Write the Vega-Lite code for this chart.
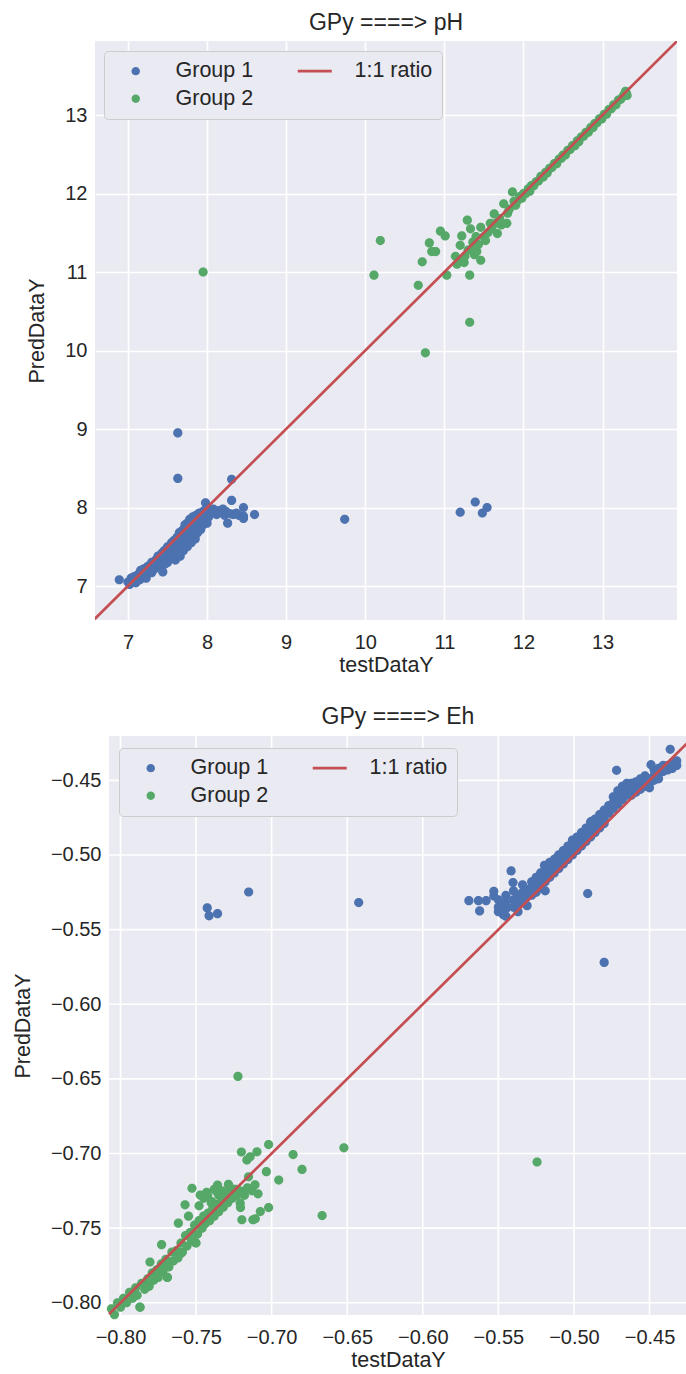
{
  "$schema": "https://vega.github.io/schema/vega-lite/v6.json",
  "padding": {"left": 12, "top": 12, "right": 0, "bottom": 0},
  "background": "white",
  "datasets": {
    "ph": [
      {"g":"Group 1","x":6.89,"y":7.08},{"g":"Group 1","x":7.0,"y":7.05},{"g":"Group 1","x":7.02,"y":7.02},{"g":"Group 1","x":7.04,"y":7.1},{"g":"Group 1","x":7.06,"y":7.06},{"g":"Group 1","x":7.08,"y":7.12},{"g":"Group 1","x":7.1,"y":7.04},{"g":"Group 1","x":7.12,"y":7.1},{"g":"Group 1","x":7.13,"y":7.15},{"g":"Group 1","x":7.15,"y":7.08},{"g":"Group 1","x":7.16,"y":7.2},{"g":"Group 1","x":7.18,"y":7.13},{"g":"Group 1","x":7.2,"y":7.22},{"g":"Group 1","x":7.21,"y":7.16},{"g":"Group 1","x":7.23,"y":7.1},{"g":"Group 1","x":7.25,"y":7.25},{"g":"Group 1","x":7.26,"y":7.19},{"g":"Group 1","x":7.28,"y":7.24},{"g":"Group 1","x":7.3,"y":7.3},{"g":"Group 1","x":7.3,"y":7.17},{"g":"Group 1","x":7.32,"y":7.27},{"g":"Group 1","x":7.34,"y":7.22},{"g":"Group 1","x":7.35,"y":7.33},{"g":"Group 1","x":7.36,"y":7.28},{"g":"Group 1","x":7.38,"y":7.38},{"g":"Group 1","x":7.4,"y":7.3},{"g":"Group 1","x":7.41,"y":7.36},{"g":"Group 1","x":7.43,"y":7.42},{"g":"Group 1","x":7.44,"y":7.18},{"g":"Group 1","x":7.45,"y":7.33},{"g":"Group 1","x":7.46,"y":7.45},{"g":"Group 1","x":7.48,"y":7.38},{"g":"Group 1","x":7.5,"y":7.5},{"g":"Group 1","x":7.5,"y":7.3},{"g":"Group 1","x":7.52,"y":7.42},{"g":"Group 1","x":7.53,"y":7.35},{"g":"Group 1","x":7.55,"y":7.55},{"g":"Group 1","x":7.55,"y":7.47},{"g":"Group 1","x":7.57,"y":7.4},{"g":"Group 1","x":7.58,"y":7.58},{"g":"Group 1","x":7.6,"y":7.5},{"g":"Group 1","x":7.6,"y":7.33},{"g":"Group 1","x":7.62,"y":7.62},{"g":"Group 1","x":7.62,"y":7.44},{"g":"Group 1","x":7.64,"y":7.55},{"g":"Group 1","x":7.65,"y":7.68},{"g":"Group 1","x":7.66,"y":7.38},{"g":"Group 1","x":7.67,"y":7.5},{"g":"Group 1","x":7.68,"y":7.6},{"g":"Group 1","x":7.7,"y":7.72},{"g":"Group 1","x":7.7,"y":7.45},{"g":"Group 1","x":7.72,"y":7.78},{"g":"Group 1","x":7.72,"y":7.55},{"g":"Group 1","x":7.73,"y":7.65},{"g":"Group 1","x":7.75,"y":7.8},{"g":"Group 1","x":7.75,"y":7.5},{"g":"Group 1","x":7.76,"y":7.7},{"g":"Group 1","x":7.77,"y":7.6},{"g":"Group 1","x":7.78,"y":7.85},{"g":"Group 1","x":7.8,"y":7.75},{"g":"Group 1","x":7.8,"y":7.55},{"g":"Group 1","x":7.81,"y":7.65},{"g":"Group 1","x":7.82,"y":7.88},{"g":"Group 1","x":7.83,"y":7.7},{"g":"Group 1","x":7.85,"y":7.82},{"g":"Group 1","x":7.85,"y":7.6},{"g":"Group 1","x":7.86,"y":7.9},{"g":"Group 1","x":7.87,"y":7.75},{"g":"Group 1","x":7.88,"y":7.68},{"g":"Group 1","x":7.9,"y":7.93},{"g":"Group 1","x":7.9,"y":7.82},{"g":"Group 1","x":7.92,"y":7.72},{"g":"Group 1","x":7.93,"y":7.88},{"g":"Group 1","x":7.95,"y":7.95},{"g":"Group 1","x":7.95,"y":7.78},{"g":"Group 1","x":7.97,"y":7.85},{"g":"Group 1","x":7.98,"y":8.06},{"g":"Group 1","x":8.0,"y":7.92},{"g":"Group 1","x":8.0,"y":7.8},{"g":"Group 1","x":8.02,"y":7.88},{"g":"Group 1","x":8.03,"y":7.97},{"g":"Group 1","x":8.05,"y":7.93},{"g":"Group 1","x":8.08,"y":7.98},{"g":"Group 1","x":8.12,"y":7.91},{"g":"Group 1","x":8.15,"y":7.96},{"g":"Group 1","x":8.2,"y":7.98},{"g":"Group 1","x":8.22,"y":7.9},{"g":"Group 1","x":8.24,"y":7.95},{"g":"Group 1","x":8.26,"y":7.8},{"g":"Group 1","x":8.3,"y":7.92},{"g":"Group 1","x":8.33,"y":7.91},{"g":"Group 1","x":8.37,"y":7.93},{"g":"Group 1","x":8.4,"y":7.9},{"g":"Group 1","x":8.46,"y":7.89},{"g":"Group 1","x":8.46,"y":7.86},{"g":"Group 1","x":8.46,"y":8.0},{"g":"Group 1","x":8.6,"y":7.91},{"g":"Group 1","x":8.31,"y":8.09},{"g":"Group 1","x":8.31,"y":8.36},{"g":"Group 1","x":7.63,"y":8.95},{"g":"Group 1","x":7.63,"y":8.37},{"g":"Group 1","x":9.74,"y":7.85},{"g":"Group 1","x":11.2,"y":7.94},{"g":"Group 1","x":11.39,"y":8.07},{"g":"Group 1","x":11.48,"y":7.93},{"g":"Group 1","x":11.54,"y":8.0},
      {"g":"Group 1","x":7.42,"y":7.25},{"g":"Group 1","x":7.47,"y":7.28},{"g":"Group 1","x":7.56,"y":7.36},{"g":"Group 1","x":7.63,"y":7.42},{"g":"Group 1","x":7.69,"y":7.52},{"g":"Group 1","x":7.74,"y":7.58},{"g":"Group 1","x":7.79,"y":7.63},{"g":"Group 1","x":7.84,"y":7.67},{"g":"Group 1","x":7.89,"y":7.73},{"g":"Group 1","x":7.58,"y":7.48},{"g":"Group 1","x":7.64,"y":7.6},{"g":"Group 1","x":7.52,"y":7.5},{"g":"Group 1","x":7.68,"y":7.7},{"g":"Group 1","x":7.74,"y":7.72},{"g":"Group 1","x":7.79,"y":7.82},{"g":"Group 1","x":7.84,"y":7.86},{"g":"Group 1","x":7.89,"y":7.88},{"g":"Group 1","x":7.94,"y":7.9},{"g":"Group 1","x":7.97,"y":7.96},{"g":"Group 1","x":7.99,"y":7.99},
      {"g":"Group 2","x":7.95,"y":11.0},{"g":"Group 2","x":10.11,"y":10.96},{"g":"Group 2","x":10.19,"y":11.4},{"g":"Group 2","x":10.76,"y":9.97},{"g":"Group 2","x":11.32,"y":10.36},{"g":"Group 2","x":10.67,"y":10.83},{"g":"Group 2","x":10.72,"y":11.13},{"g":"Group 2","x":10.81,"y":11.37},{"g":"Group 2","x":10.84,"y":11.26},{"g":"Group 2","x":10.89,"y":11.26},{"g":"Group 2","x":10.95,"y":11.52},{"g":"Group 2","x":11.01,"y":11.46},{"g":"Group 2","x":11.03,"y":10.96},{"g":"Group 2","x":11.22,"y":11.46},{"g":"Group 2","x":11.2,"y":11.34},{"g":"Group 2","x":11.29,"y":11.66},{"g":"Group 2","x":11.32,"y":10.96},{"g":"Group 2","x":11.33,"y":11.55},{"g":"Group 2","x":11.46,"y":11.15},{"g":"Group 2","x":11.41,"y":11.26},{"g":"Group 2","x":11.2,"y":11.15},{"g":"Group 2","x":11.16,"y":11.1},{"g":"Group 2","x":11.14,"y":11.2},{"g":"Group 2","x":11.26,"y":11.2},{"g":"Group 2","x":11.3,"y":11.28},{"g":"Group 2","x":11.35,"y":11.3},{"g":"Group 2","x":11.25,"y":11.12},{"g":"Group 2","x":11.38,"y":11.22},{"g":"Group 2","x":11.43,"y":11.35},{"g":"Group 2","x":11.46,"y":11.57},{"g":"Group 2","x":11.58,"y":11.62},{"g":"Group 2","x":11.63,"y":11.74},{"g":"Group 2","x":11.75,"y":11.87},{"g":"Group 2","x":11.86,"y":12.02},{"g":"Group 2","x":11.67,"y":11.49},{"g":"Group 2","x":11.79,"y":11.62},{"g":"Group 2","x":11.8,"y":11.75},{"g":"Group 2","x":11.7,"y":11.68},{"g":"Group 2","x":11.55,"y":11.5},{"g":"Group 2","x":11.5,"y":11.45},{"g":"Group 2","x":11.6,"y":11.55},{"g":"Group 2","x":11.72,"y":11.6},{"g":"Group 2","x":11.65,"y":11.62},{"g":"Group 2","x":11.82,"y":11.8},{"g":"Group 2","x":11.9,"y":11.85},{"g":"Group 2","x":11.52,"y":11.4},{"g":"Group 2","x":11.4,"y":11.45},{"g":"Group 2","x":11.36,"y":11.38},
      {"g":"Group 2","x":11.88,"y":11.9},{"g":"Group 2","x":11.92,"y":11.9},{"g":"Group 2","x":11.95,"y":11.96},{"g":"Group 2","x":11.98,"y":11.94},{"g":"Group 2","x":12.0,"y":12.0},{"g":"Group 2","x":12.03,"y":12.0},{"g":"Group 2","x":12.06,"y":12.06},{"g":"Group 2","x":12.08,"y":12.03},{"g":"Group 2","x":12.1,"y":12.1},{"g":"Group 2","x":12.13,"y":12.1},{"g":"Group 2","x":12.16,"y":12.15},{"g":"Group 2","x":12.19,"y":12.16},{"g":"Group 2","x":12.22,"y":12.22},{"g":"Group 2","x":12.25,"y":12.21},{"g":"Group 2","x":12.28,"y":12.27},{"g":"Group 2","x":12.3,"y":12.26},{"g":"Group 2","x":12.33,"y":12.32},{"g":"Group 2","x":12.36,"y":12.33},{"g":"Group 2","x":12.39,"y":12.38},{"g":"Group 2","x":12.42,"y":12.38},{"g":"Group 2","x":12.45,"y":12.44},{"g":"Group 2","x":12.48,"y":12.45},{"g":"Group 2","x":12.5,"y":12.49},{"g":"Group 2","x":12.53,"y":12.49},{"g":"Group 2","x":12.56,"y":12.55},{"g":"Group 2","x":12.59,"y":12.56},{"g":"Group 2","x":12.62,"y":12.61},{"g":"Group 2","x":12.65,"y":12.61},{"g":"Group 2","x":12.68,"y":12.67},{"g":"Group 2","x":12.7,"y":12.66},{"g":"Group 2","x":12.73,"y":12.72},{"g":"Group 2","x":12.76,"y":12.73},{"g":"Group 2","x":12.79,"y":12.78},{"g":"Group 2","x":12.82,"y":12.78},{"g":"Group 2","x":12.85,"y":12.84},{"g":"Group 2","x":12.88,"y":12.84},{"g":"Group 2","x":12.9,"y":12.89},{"g":"Group 2","x":12.93,"y":12.9},{"g":"Group 2","x":12.96,"y":12.95},{"g":"Group 2","x":12.99,"y":12.95},{"g":"Group 2","x":13.02,"y":13.01},{"g":"Group 2","x":13.05,"y":13.01},{"g":"Group 2","x":13.08,"y":13.07},{"g":"Group 2","x":13.11,"y":13.08},{"g":"Group 2","x":13.14,"y":13.13},{"g":"Group 2","x":13.17,"y":13.13},{"g":"Group 2","x":13.2,"y":13.19},{"g":"Group 2","x":13.23,"y":13.2},{"g":"Group 2","x":13.26,"y":13.24},{"g":"Group 2","x":13.28,"y":13.27},{"g":"Group 2","x":13.3,"y":13.28},{"g":"Group 2","x":13.31,"y":13.25},{"g":"Group 2","x":13.29,"y":13.3}
    ],
    "eh": [
      {"g":"Group 1","x":-0.7426,"y":-0.5355},{"g":"Group 1","x":-0.7414,"y":-0.5408},{"g":"Group 1","x":-0.7358,"y":-0.5393},{"g":"Group 1","x":-0.7152,"y":-0.5248},{"g":"Group 1","x":-0.6424,"y":-0.5319},{"g":"Group 1","x":-0.48,"y":-0.572},{"g":"Group 1","x":-0.4909,"y":-0.5259},
      {"g":"Group 1","x":-0.5695,"y":-0.5306},{"g":"Group 1","x":-0.5632,"y":-0.5306},{"g":"Group 1","x":-0.5581,"y":-0.5306},{"g":"Group 1","x":-0.5624,"y":-0.5375},{"g":"Group 1","x":-0.553,"y":-0.5275},{"g":"Group 1","x":-0.553,"y":-0.5243},{"g":"Group 1","x":-0.5467,"y":-0.533},{"g":"Group 1","x":-0.5467,"y":-0.54},{"g":"Group 1","x":-0.5416,"y":-0.5107},{"g":"Group 1","x":-0.5403,"y":-0.5185},
      {"g":"Group 1","x":-0.55,"y":-0.535},{"g":"Group 1","x":-0.55,"y":-0.53},{"g":"Group 1","x":-0.55,"y":-0.538},
      {"g":"Group 1","x":-0.545,"y":-0.532},{"g":"Group 1","x":-0.545,"y":-0.527},{"g":"Group 1","x":-0.545,"y":-0.536},{"g":"Group 1","x":-0.545,"y":-0.541},
      {"g":"Group 1","x":-0.54,"y":-0.53},{"g":"Group 1","x":-0.54,"y":-0.524},{"g":"Group 1","x":-0.54,"y":-0.535},
      {"g":"Group 1","x":-0.537,"y":-0.527},{"g":"Group 1","x":-0.537,"y":-0.533},{"g":"Group 1","x":-0.537,"y":-0.538},
      {"g":"Group 1","x":-0.534,"y":-0.525},{"g":"Group 1","x":-0.534,"y":-0.531},{"g":"Group 1","x":-0.534,"y":-0.52},
      {"g":"Group 1","x":-0.531,"y":-0.528},{"g":"Group 1","x":-0.531,"y":-0.523},{"g":"Group 1","x":-0.531,"y":-0.534},
      {"g":"Group 1","x":-0.528,"y":-0.522},{"g":"Group 1","x":-0.528,"y":-0.518},{"g":"Group 1","x":-0.528,"y":-0.527},
      {"g":"Group 1","x":-0.525,"y":-0.52},{"g":"Group 1","x":-0.525,"y":-0.515},{"g":"Group 1","x":-0.525,"y":-0.525},
      {"g":"Group 1","x":-0.522,"y":-0.517},{"g":"Group 1","x":-0.522,"y":-0.522},{"g":"Group 1","x":-0.522,"y":-0.512},
      {"g":"Group 1","x":-0.519,"y":-0.513},{"g":"Group 1","x":-0.519,"y":-0.518},{"g":"Group 1","x":-0.519,"y":-0.524},
      {"g":"Group 1","x":-0.516,"y":-0.51},{"g":"Group 1","x":-0.516,"y":-0.515},{"g":"Group 1","x":-0.516,"y":-0.505},
      {"g":"Group 1","x":-0.513,"y":-0.508},{"g":"Group 1","x":-0.513,"y":-0.512},{"g":"Group 1","x":-0.513,"y":-0.503},
      {"g":"Group 1","x":-0.51,"y":-0.505},{"g":"Group 1","x":-0.51,"y":-0.5},{"g":"Group 1","x":-0.51,"y":-0.509},
      {"g":"Group 1","x":-0.507,"y":-0.502},{"g":"Group 1","x":-0.507,"y":-0.497},{"g":"Group 1","x":-0.507,"y":-0.506},
      {"g":"Group 1","x":-0.504,"y":-0.499},{"g":"Group 1","x":-0.504,"y":-0.503},{"g":"Group 1","x":-0.504,"y":-0.494},
      {"g":"Group 1","x":-0.501,"y":-0.496},{"g":"Group 1","x":-0.501,"y":-0.5},{"g":"Group 1","x":-0.501,"y":-0.49},
      {"g":"Group 1","x":-0.498,"y":-0.493},{"g":"Group 1","x":-0.498,"y":-0.497},{"g":"Group 1","x":-0.498,"y":-0.488},
      {"g":"Group 1","x":-0.495,"y":-0.49},{"g":"Group 1","x":-0.495,"y":-0.485},{"g":"Group 1","x":-0.495,"y":-0.494},
      {"g":"Group 1","x":-0.492,"y":-0.487},{"g":"Group 1","x":-0.492,"y":-0.491},{"g":"Group 1","x":-0.492,"y":-0.482},
      {"g":"Group 1","x":-0.489,"y":-0.484},{"g":"Group 1","x":-0.489,"y":-0.478},{"g":"Group 1","x":-0.489,"y":-0.488},
      {"g":"Group 1","x":-0.486,"y":-0.481},{"g":"Group 1","x":-0.486,"y":-0.476},{"g":"Group 1","x":-0.486,"y":-0.485},
      {"g":"Group 1","x":-0.483,"y":-0.478},{"g":"Group 1","x":-0.483,"y":-0.473},{"g":"Group 1","x":-0.483,"y":-0.482},
      {"g":"Group 1","x":-0.48,"y":-0.475},{"g":"Group 1","x":-0.48,"y":-0.47},{"g":"Group 1","x":-0.48,"y":-0.479},
      {"g":"Group 1","x":-0.477,"y":-0.472},{"g":"Group 1","x":-0.477,"y":-0.467},{"g":"Group 1","x":-0.477,"y":-0.469},
      {"g":"Group 1","x":-0.474,"y":-0.469},{"g":"Group 1","x":-0.474,"y":-0.465},{"g":"Group 1","x":-0.474,"y":-0.461},
      {"g":"Group 1","x":-0.471,"y":-0.466},{"g":"Group 1","x":-0.471,"y":-0.461},{"g":"Group 1","x":-0.471,"y":-0.457},
      {"g":"Group 1","x":-0.468,"y":-0.463},{"g":"Group 1","x":-0.468,"y":-0.458},{"g":"Group 1","x":-0.468,"y":-0.454},
      {"g":"Group 1","x":-0.465,"y":-0.46},{"g":"Group 1","x":-0.465,"y":-0.455},{"g":"Group 1","x":-0.465,"y":-0.452},
      {"g":"Group 1","x":-0.462,"y":-0.457},{"g":"Group 1","x":-0.462,"y":-0.452},{"g":"Group 1","x":-0.462,"y":-0.46},
      {"g":"Group 1","x":-0.459,"y":-0.455},{"g":"Group 1","x":-0.459,"y":-0.451},{"g":"Group 1","x":-0.459,"y":-0.458},
      {"g":"Group 1","x":-0.456,"y":-0.453},{"g":"Group 1","x":-0.456,"y":-0.449},{"g":"Group 1","x":-0.456,"y":-0.456},
      {"g":"Group 1","x":-0.453,"y":-0.451},{"g":"Group 1","x":-0.453,"y":-0.447},{"g":"Group 1","x":-0.453,"y":-0.454},
      {"g":"Group 1","x":-0.45,"y":-0.449},{"g":"Group 1","x":-0.45,"y":-0.452},{"g":"Group 1","x":-0.45,"y":-0.455},
      {"g":"Group 1","x":-0.447,"y":-0.447},{"g":"Group 1","x":-0.447,"y":-0.443},{"g":"Group 1","x":-0.447,"y":-0.45},
      {"g":"Group 1","x":-0.444,"y":-0.446},{"g":"Group 1","x":-0.444,"y":-0.442},{"g":"Group 1","x":-0.444,"y":-0.449},
      {"g":"Group 1","x":-0.441,"y":-0.444},{"g":"Group 1","x":-0.441,"y":-0.44},{"g":"Group 1","x":-0.438,"y":-0.443},{"g":"Group 1","x":-0.438,"y":-0.44},{"g":"Group 1","x":-0.435,"y":-0.442},{"g":"Group 1","x":-0.435,"y":-0.439},{"g":"Group 1","x":-0.432,"y":-0.44},{"g":"Group 1","x":-0.432,"y":-0.437},
      {"g":"Group 1","x":-0.4718,"y":-0.4433},{"g":"Group 1","x":-0.449,"y":-0.4395},{"g":"Group 1","x":-0.4363,"y":-0.4292},{"g":"Group 1","x":-0.4883,"y":-0.4775},{"g":"Group 1","x":-0.5195,"y":-0.507},{"g":"Group 1","x":-0.5112,"y":-0.5018},
      {"g":"Group 2","x":-0.806,"y":-0.804},{"g":"Group 2","x":-0.804,"y":-0.808},{"g":"Group 2","x":-0.802,"y":-0.8},{"g":"Group 2","x":-0.8,"y":-0.803},{"g":"Group 2","x":-0.798,"y":-0.797},{"g":"Group 2","x":-0.796,"y":-0.8},{"g":"Group 2","x":-0.794,"y":-0.793},{"g":"Group 2","x":-0.792,"y":-0.797},{"g":"Group 2","x":-0.79,"y":-0.79},{"g":"Group 2","x":-0.789,"y":-0.795},{"g":"Group 2","x":-0.787,"y":-0.803},{"g":"Group 2","x":-0.786,"y":-0.787},{"g":"Group 2","x":-0.784,"y":-0.791},{"g":"Group 2","x":-0.782,"y":-0.784},{"g":"Group 2","x":-0.781,"y":-0.789},{"g":"Group 2","x":-0.779,"y":-0.78},{"g":"Group 2","x":-0.778,"y":-0.785},{"g":"Group 2","x":-0.776,"y":-0.778},{"g":"Group 2","x":-0.775,"y":-0.783},{"g":"Group 2","x":-0.773,"y":-0.774},{"g":"Group 2","x":-0.772,"y":-0.779},{"g":"Group 2","x":-0.77,"y":-0.771},{"g":"Group 2","x":-0.769,"y":-0.783},{"g":"Group 2","x":-0.768,"y":-0.776},{"g":"Group 2","x":-0.766,"y":-0.766},{"g":"Group 2","x":-0.765,"y":-0.772},{"g":"Group 2","x":-0.763,"y":-0.765},{"g":"Group 2","x":-0.762,"y":-0.77},{"g":"Group 2","x":-0.76,"y":-0.76},{"g":"Group 2","x":-0.759,"y":-0.766},{"g":"Group 2","x":-0.757,"y":-0.755},{"g":"Group 2","x":-0.756,"y":-0.762},{"g":"Group 2","x":-0.754,"y":-0.753},{"g":"Group 2","x":-0.753,"y":-0.758},{"g":"Group 2","x":-0.751,"y":-0.748},{"g":"Group 2","x":-0.75,"y":-0.76},{"g":"Group 2","x":-0.749,"y":-0.754},{"g":"Group 2","x":-0.748,"y":-0.745},{"g":"Group 2","x":-0.746,"y":-0.75},{"g":"Group 2","x":-0.745,"y":-0.742},{"g":"Group 2","x":-0.744,"y":-0.747},{"g":"Group 2","x":-0.742,"y":-0.74},{"g":"Group 2","x":-0.741,"y":-0.745},{"g":"Group 2","x":-0.739,"y":-0.737},{"g":"Group 2","x":-0.738,"y":-0.742},{"g":"Group 2","x":-0.736,"y":-0.734},{"g":"Group 2","x":-0.735,"y":-0.739},{"g":"Group 2","x":-0.733,"y":-0.731},{"g":"Group 2","x":-0.732,"y":-0.736},{"g":"Group 2","x":-0.73,"y":-0.728},{"g":"Group 2","x":-0.729,"y":-0.733},{"g":"Group 2","x":-0.727,"y":-0.726},{"g":"Group 2","x":-0.726,"y":-0.73},{"g":"Group 2","x":-0.724,"y":-0.724},{"g":"Group 2","x":-0.723,"y":-0.728},{"g":"Group 2","x":-0.721,"y":-0.725},
      {"g":"Group 2","x":-0.7527,"y":-0.7233},{"g":"Group 2","x":-0.7573,"y":-0.7344},{"g":"Group 2","x":-0.7617,"y":-0.7467},{"g":"Group 2","x":-0.7728,"y":-0.7611},{"g":"Group 2","x":-0.7805,"y":-0.7727},{"g":"Group 2","x":-0.755,"y":-0.742},{"g":"Group 2","x":-0.748,"y":-0.735},{"g":"Group 2","x":-0.743,"y":-0.726},{"g":"Group 2","x":-0.738,"y":-0.724},{"g":"Group 2","x":-0.733,"y":-0.725},{"g":"Group 2","x":-0.728,"y":-0.722},{"g":"Group 2","x":-0.745,"y":-0.73},{"g":"Group 2","x":-0.74,"y":-0.733},{"g":"Group 2","x":-0.735,"y":-0.728},
      {"g":"Group 2","x":-0.7286,"y":-0.7207},{"g":"Group 2","x":-0.7358,"y":-0.7211},{"g":"Group 2","x":-0.7423,"y":-0.7282},{"g":"Group 2","x":-0.7363,"y":-0.7256},{"g":"Group 2","x":-0.7319,"y":-0.7267},{"g":"Group 2","x":-0.7473,"y":-0.7278},{"g":"Group 2","x":-0.7396,"y":-0.7322},
      {"g":"Group 2","x":-0.769,"y":-0.7829},{"g":"Group 2","x":-0.7872,"y":-0.8029},{"g":"Group 2","x":-0.7507,"y":-0.7596},{"g":"Group 2","x":-0.76,"y":-0.767},
      {"g":"Group 2","x":-0.7223,"y":-0.6484},{"g":"Group 2","x":-0.6522,"y":-0.6962},{"g":"Group 2","x":-0.702,"y":-0.694},{"g":"Group 2","x":-0.72,"y":-0.699},{"g":"Group 2","x":-0.7164,"y":-0.7044},{"g":"Group 2","x":-0.7142,"y":-0.7022},{"g":"Group 2","x":-0.7097,"y":-0.6989},{"g":"Group 2","x":-0.6858,"y":-0.7007},{"g":"Group 2","x":-0.6799,"y":-0.7107},{"g":"Group 2","x":-0.7035,"y":-0.7122},{"g":"Group 2","x":-0.6953,"y":-0.7178},{"g":"Group 2","x":-0.6666,"y":-0.7416},{"g":"Group 2","x":-0.7153,"y":-0.7156},{"g":"Group 2","x":-0.702,"y":-0.7362},{"g":"Group 2","x":-0.7075,"y":-0.7389},{"g":"Group 2","x":-0.7197,"y":-0.7444},{"g":"Group 2","x":-0.7124,"y":-0.7444},{"g":"Group 2","x":-0.7108,"y":-0.7438},{"g":"Group 2","x":-0.7208,"y":-0.7333},{"g":"Group 2","x":-0.7206,"y":-0.7362},{"g":"Group 2","x":-0.7197,"y":-0.7256},{"g":"Group 2","x":-0.718,"y":-0.728},{"g":"Group 2","x":-0.716,"y":-0.723},{"g":"Group 2","x":-0.713,"y":-0.725},{"g":"Group 2","x":-0.711,"y":-0.721},{"g":"Group 2","x":-0.709,"y":-0.727},{"g":"Group 2","x":-0.5244,"y":-0.7057}
    ],
    "ehticks": [{"t": -0.8}, {"t": -0.75}, {"t": -0.7}, {"t": -0.65}, {"t": -0.6}, {"t": -0.55}, {"t": -0.5}, {"t": -0.45}]
  },
  "vconcat": [
    {
      "width": 582,
      "height": 579,
      "title": {"text": "GPy ====> pH"},
      "layer": [
        {
          "data": {"name": "ph"},
          "mark": {"type": "point", "filled": true, "opacity": 1, "size": 480, "strokeWidth": 0},
          "encoding": {
            "x": {"field": "x", "type": "quantitative", "scale": {"domain": [6.583, 13.941], "nice": false, "zero": false}, "axis": {"values": [7, 8, 9, 10, 11, 12, 13], "format": "d", "title": "testDataY"}},
            "y": {"field": "y", "type": "quantitative", "scale": {"domain": [6.567, 13.943], "nice": false, "zero": false}, "axis": {"values": [7, 8, 9, 10, 11, 12, 13], "format": "d", "title": "PredDataY"}},
            "color": {"field": "g", "type": "nominal", "scale": {"domain": ["Group 1", "Group 2", "1:1 ratio"], "range": ["#4c72b0", "#55a868", "#c44e52"]}, "legend": {"title": null, "orient": "none", "legendX": 9, "legendY": 10, "zindex": 1}},
            "shape": {"field": "g", "type": "nominal", "scale": {"domain": ["Group 1", "Group 2", "1:1 ratio"], "range": ["M0.42,0A0.42,0.42,0,1,1,-0.42,0A0.42,0.42,0,1,1,0.42,0Z", "M0.42,0A0.42,0.42,0,1,1,-0.42,0A0.42,0.42,0,1,1,0.42,0Z", "M-1.7,-0.14L1.7,-0.14L1.7,0.14L-1.7,0.14Z"]}, "legend": {"title": null, "orient": "none", "legendX": 9, "legendY": 10, "zindex": 1}}
          }
        },
        {
          "data": {"values": [{"x": 6, "y": 6}, {"x": 15, "y": 15}]},
          "mark": {"type": "line", "color": "#c44e52", "strokeWidth": 2.7, "clip": true},
          "encoding": {
            "x": {"field": "x", "type": "quantitative"},
            "y": {"field": "y", "type": "quantitative"}
          }
        }
      ]
    },
    {
      "width": 592,
      "height": 579,
      "view": {"fill": null, "stroke": null},
      "title": {"text": "GPy ====> Eh", "dx": 7},
      "layer": [
        {
          "data": {"values": [{}]},
          "mark": {"type": "rect", "color": "#eaeaf2"},
          "encoding": {
            "x": {"datum": -0.8076, "type": "quantitative"},
            "x2": {"datum": -0.4252},
            "y": {"datum": -0.8082, "type": "quantitative"},
            "y2": {"datum": -0.4203}
          }
        },
        {
          "data": {"name": "ehticks"},
          "mark": {"type": "rule", "color": "#ffffff", "strokeWidth": 1.6},
          "encoding": {
            "x": {"field": "t", "type": "quantitative"},
            "y": {"datum": -0.8082, "type": "quantitative"},
            "y2": {"datum": -0.4203}
          }
        },
        {
          "data": {"name": "ehticks"},
          "mark": {"type": "rule", "color": "#ffffff", "strokeWidth": 1.6},
          "encoding": {
            "y": {"field": "t", "type": "quantitative"},
            "x": {"datum": -0.8076, "type": "quantitative"},
            "x2": {"datum": -0.4252}
          }
        },
        {
          "data": {"name": "eh"},
          "mark": {"type": "point", "filled": true, "opacity": 1, "size": 480, "strokeWidth": 0},
          "encoding": {
            "x": {"field": "x", "type": "quantitative", "scale": {"domain": [-0.8076, -0.4252], "range": [14, 592], "nice": false, "zero": false}, "axis": {"values": [-0.8, -0.75, -0.7, -0.65, -0.6, -0.55, -0.5, -0.45], "format": ".2f", "title": "testDataY", "grid": false}},
            "y": {"field": "y", "type": "quantitative", "scale": {"domain": [-0.8082, -0.4203], "nice": false, "zero": false}, "axis": {"values": [-0.8, -0.75, -0.7, -0.65, -0.6, -0.55, -0.5, -0.45], "format": ".2f", "title": "PredDataY", "grid": false, "offset": -14}},
            "color": {"field": "g", "type": "nominal", "scale": {"domain": ["Group 1", "Group 2", "1:1 ratio"], "range": ["#4c72b0", "#55a868", "#c44e52"]}, "legend": {"title": null, "orient": "none", "legendX": 24, "legendY": 12, "zindex": 1}},
            "shape": {"field": "g", "type": "nominal", "scale": {"domain": ["Group 1", "Group 2", "1:1 ratio"], "range": ["M0.42,0A0.42,0.42,0,1,1,-0.42,0A0.42,0.42,0,1,1,0.42,0Z", "M0.42,0A0.42,0.42,0,1,1,-0.42,0A0.42,0.42,0,1,1,0.42,0Z", "M-1.7,-0.14L1.7,-0.14L1.7,0.14L-1.7,0.14Z"]}, "legend": {"title": null, "orient": "none", "legendX": 24, "legendY": 12, "zindex": 1}}
          }
        },
        {
          "data": {"values": [{"x": -0.8076, "y": -0.8076}, {"x": -0.3, "y": -0.3}]},
          "mark": {"type": "line", "color": "#c44e52", "strokeWidth": 2.7, "clip": true},
          "encoding": {
            "x": {"field": "x", "type": "quantitative"},
            "y": {"field": "y", "type": "quantitative"}
          }
        }
      ]
    }
  ],
  "resolve": {"scale": {"color": "independent", "shape": "independent"}, "legend": {"color": "independent", "shape": "independent"}},
  "spacing": 30,
  "config": {
    "font": "Liberation Sans",
    "view": {"fill": "#eaeaf2", "stroke": null},
    "axis": {"grid": true, "gridColor": "#ffffff", "gridWidth": 1.6, "domain": false, "ticks": false, "labelFontSize": 20, "labelColor": "#262626", "labelFlush": false, "labelOverlap": false, "titleFontSize": 21.5, "titleColor": "#262626", "titleFontWeight": "normal"},
    "axisX": {"labelPadding": 12, "titlePadding": 2},
    "axisY": {"labelPadding": 8, "titlePadding": 16},
    "title": {"fontSize": 23, "fontWeight": "normal", "color": "#262626", "offset": 6},
    "legend": {"columns": 2, "labelFontSize": 21.5, "labelColor": "#262626", "fillColor": "#eaeaf2", "strokeColor": "#cccccc", "cornerRadius": 4, "padding": 9, "symbolSize": 400, "symbolStrokeWidth": 0, "symbolOffset": 12, "labelOffset": 29, "columnPadding": 38, "rowPadding": 5, "symbolOpacity": 1, "labelLimit": 300}
  }
}
